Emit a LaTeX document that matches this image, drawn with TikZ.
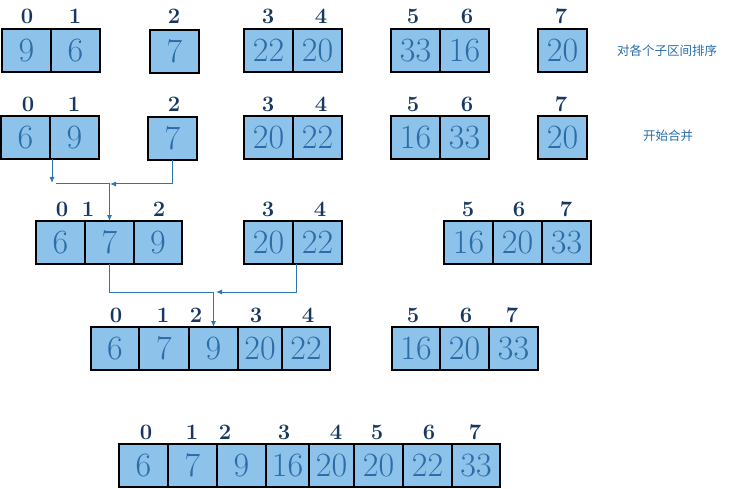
\documentclass[tikz,border=0pt]{standalone}
\usepackage{fontspec}
\newfontfamily\cjkfont{Noto Sans CJK SC}
\usetikzlibrary{arrows.meta,calc}
\definecolor{cellfill}{RGB}{141,195,234}
\definecolor{numcol}{RGB}{44,108,168}
\definecolor{idxcol}{RGB}{22,56,96}
\definecolor{conncol}{RGB}{46,117,182}
\definecolor{notecol}{RGB}{40,108,170}
\tikzset{
  cellbox/.style={draw=black, line width=1.2pt, fill=cellfill, inner sep=0pt, outer sep=0pt,
    text=numcol, font=\fontsize{34}{34}\selectfont},
  idx/.style={inner sep=0pt, text=idxcol, font=\bfseries\fontsize{22}{22}\selectfont},
  note/.style={inner sep=0pt, text=notecol, font=\cjkfont\fontsize{12.5}{13}\selectfont},
  conn/.style={draw=conncol, line width=1pt, -{Latex[length=6pt,width=5pt]}},
  connplain/.style={draw=conncol, line width=1pt}
}
% name, x1, x2, y1, y2, text
\newcommand\mycell[6]{\node[cellbox, minimum width={#3pt-#2pt}, minimum height={#5pt-#4pt}] (#1) at ({(#2+#3)/2},{(#4+#5)/2}) {#6};}
\newcommand\myidx[4]{\node[idx] (#1) at (#2,#3) {#4};}
\begin{document}
\begin{tikzpicture}[x=1pt,y=-1pt]
\useasboundingbox (0,0) rectangle (733,489);
% Row 1
\mycell{ra1}{2}{51}{29}{72}{9}
\mycell{ra2}{51}{100}{29}{72}{6}
\mycell{ra3}{150}{199}{30}{73}{7}
\mycell{ra4}{244}{293}{29}{72}{22}
\mycell{ra5}{293}{342}{29}{72}{20}
\mycell{ra6}{391}{440}{29}{72}{33}
\mycell{ra7}{440}{489}{29}{72}{16}
\mycell{ra8}{538}{587}{29}{72}{20}
\myidx{la0}{27}{16}{0}
\myidx{la1}{75}{16}{1}
\myidx{la2}{174}{16}{2}
\myidx{la3}{268}{16}{3}
\myidx{la4}{321}{16}{4}
\myidx{la5}{413}{16}{5}
\myidx{la6}{467}{16}{6}
\myidx{la7}{561}{16}{7}
\node[note] (t1) at (667,51) {对各个子区间排序};
% Row 2
\mycell{rb1}{1}{50}{116}{159}{6}
\mycell{rb2}{50}{99}{116}{159}{9}
\mycell{rb3}{148}{197}{117}{160}{7}
\mycell{rb4}{244}{293}{116}{159}{20}
\mycell{rb5}{293}{342}{116}{159}{22}
\mycell{rb6}{391}{440}{116}{159}{16}
\mycell{rb7}{440}{489}{116}{159}{33}
\mycell{rb8}{538}{587}{116}{159}{20}
\myidx{lb0}{28}{104}{0}
\myidx{lb1}{74}{104}{1}
\myidx{lb2}{174}{104}{2}
\myidx{lb3}{268}{104}{3}
\myidx{lb4}{321}{104}{4}
\myidx{lb5}{413}{104}{5}
\myidx{lb6}{467}{104}{6}
\myidx{lb7}{561}{104}{7}
\node[note] (t2) at (668,136) {开始合并};
% Row 3
\mycell{rc1}{36}{85}{221}{264}{6}
\mycell{rc2}{85}{134}{221}{264}{7}
\mycell{rc3}{134}{182}{221}{264}{9}
\mycell{rc4}{244}{293}{221}{264}{20}
\mycell{rc5}{293}{342}{221}{264}{22}
\mycell{rc6}{444}{493}{221}{264}{16}
\mycell{rc7}{493}{542}{221}{264}{20}
\mycell{rc8}{542}{591}{221}{264}{33}
\myidx{lc0}{62}{209}{0}
\myidx{lc1}{88}{209}{1}
\myidx{lc2}{159}{209}{2}
\myidx{lc3}{268}{209}{3}
\myidx{lc4}{320}{209}{4}
\myidx{lc5}{468}{209}{5}
\myidx{lc6}{519}{209}{6}
\myidx{lc7}{566}{209}{7}
% Row 4
\mycell{rd1}{91}{139}{327}{370}{6}
\mycell{rd2}{139}{189}{327}{370}{7}
\mycell{rd3}{189}{238}{327}{370}{9}
\mycell{rd4}{238}{282}{327}{370}{20}
\mycell{rd5}{282}{330}{327}{370}{22}
\mycell{rd6}{392}{440}{327}{370}{16}
\mycell{rd7}{440}{489}{327}{370}{20}
\mycell{rd8}{489}{538}{327}{370}{33}
\myidx{ld0}{116}{315}{0}
\myidx{ld1}{163}{315}{1}
\myidx{ld2}{196}{315}{2}
\myidx{ld3}{256}{315}{3}
\myidx{ld4}{308}{315}{4}
\myidx{ld5}{413}{315}{5}
\myidx{ld6}{466}{315}{6}
\myidx{ld7}{512}{315}{7}
% Row 5
\mycell{re1}{119}{168}{444}{487}{6}
\mycell{re2}{168}{217}{444}{487}{7}
\mycell{re3}{217}{266}{444}{487}{9}
\mycell{re4}{266}{309}{444}{487}{16}
\mycell{re5}{309}{354}{444}{487}{20}
\mycell{re6}{354}{403}{444}{487}{20}
\mycell{re7}{403}{452}{444}{487}{22}
\mycell{re8}{452}{500}{444}{487}{33}
\myidx{le0}{146}{432}{0}
\myidx{le1}{192}{432}{1}
\myidx{le2}{225}{432}{2}
\myidx{le3}{284}{432}{3}
\myidx{le4}{336}{432}{4}
\myidx{le5}{377}{432}{5}
\myidx{le6}{429}{432}{6}
\myidx{le7}{475}{432}{7}
% Connectors, first merge
\coordinate (p1) at (52,183);
\coordinate (p2) at (110,184);
\coordinate (p3) at (56,184);
\draw[conn] (rb1.south east -| p1) -- (p1);
\draw[conn] (rb3.south) |- (p2);
\draw[conn] (p3) -| (rc2.north);
% Connectors, second merge
\coordinate (p4) at (213.5,292);
\coordinate (p5) at (216,292);
\draw[conn] (rc2.south) |- (p4) -- (rd3.north);
\draw[conn] ($(rc5.south west)+(3,0)$) |- (p5);
\end{tikzpicture}
\end{document}
